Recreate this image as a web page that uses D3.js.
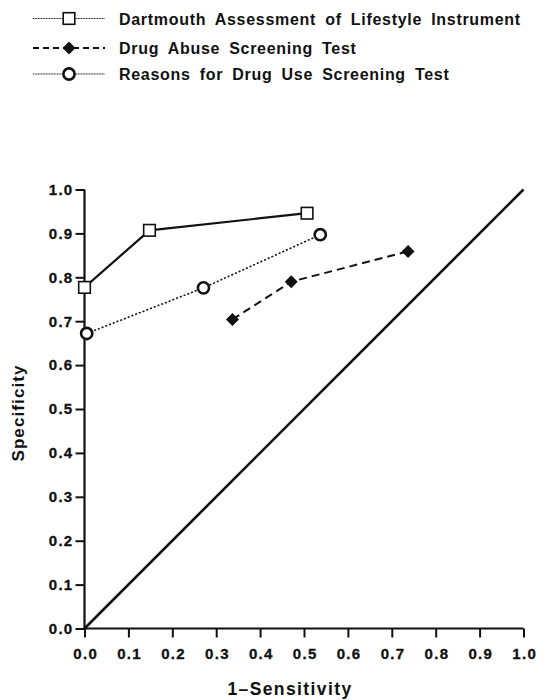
<!DOCTYPE html>
<html>
<head>
<meta charset="utf-8">
<script src="https://cdn.jsdelivr.net/npm/d3@7"></script>
<style>
  body { margin: 0; background: #fff; }
  text { font-family: "Liberation Sans", Arial, sans-serif; font-weight: bold; fill: #111; }
</style>
</head>
<body>
<div id="chart"></div>
<script>
// data
var seriesNames = ["Dartmouth Assessment of Lifestyle Instrument",
                   "Drug Abuse Screening Test",
                   "Reasons for Drug Use Screening Test"];
var daliX = [0.0, 0.148, 0.507];
var daliY = [0.777, 0.907, 0.946];
var dastX = [0.337, 0.471, 0.737];
var dastY = [0.704, 0.790, 0.859];
var rduX = [0.005, 0.271, 0.537];
var rduY = [0.672, 0.776, 0.897];
var tickValues = [0, 0.1, 0.2, 0.3, 0.4, 0.5, 0.6, 0.7, 0.8, 0.9, 1.0];

var svgWidth = 555;
var svgHeight = 700;
var margin = { left: 84.5, top: 189.5 };
var width = 439;
var height = 439;

var svg = d3.select("#chart")
  .append("svg")
  .attr("width", svgWidth)
  .attr("height", svgHeight);

var chartGroup = svg.append("g")
  .attr("transform", `translate(${margin.left}, ${margin.top})`);

var x = d3.scaleLinear().domain([0, 1]).range([0, width]);
var y = d3.scaleLinear().domain([0, 1]).range([height, 0]);

// axes
var xAxis = chartGroup.append("g")
  .attr("transform", `translate(0, ${height})`)
  .call(d3.axisBottom(x).tickValues(tickValues).tickFormat(d3.format(".1f")).tickSize(9).tickPadding(11));
var yAxis = chartGroup.append("g")
  .call(d3.axisLeft(y).tickValues(tickValues).tickFormat(d3.format(".1f")).tickSize(9).tickPadding(2));

[xAxis, yAxis].forEach(function(ax) {
  ax.attr("font-size", null).attr("font-family", null);
  ax.select(".domain").attr("stroke", "#111").attr("stroke-width", 2.2);
  ax.selectAll(".tick line").attr("stroke", "#111").attr("stroke-width", 2);
  ax.selectAll(".tick text")
    .attr("fill", "#111")
    .attr("stroke", "#111")
    .attr("stroke-width", 0.3)
    .style("font-size", "15px")
    .style("letter-spacing", "1.3px")
    .style("font-family", "'Liberation Sans', Arial, sans-serif")
    .style("font-weight", "bold");
});
xAxis.select(".domain").attr("d", `M0,0H${width}`);
yAxis.select(".domain").attr("d", `M0,${height}V0`);
xAxis.selectAll(".tick text").attr("dx", "0.7px");

// diagonal reference line
chartGroup.append("line")
  .attr("x1", x(0)).attr("y1", y(0))
  .attr("x2", x(1)).attr("y2", y(1))
  .attr("stroke", "#111")
  .attr("stroke-width", 2.6);

var line = d3.line().x(d => x(d[0])).y(d => y(d[1]));

var series = [
  { pts: d3.zip(daliX, daliY), dash: null, lw: 2.2, marker: "square" },
  { pts: d3.zip(dastX, dastY), dash: "8,5", lw: 2, marker: "diamond" },
  { pts: d3.zip(rduX, rduY), dash: "2,2", lw: 1.6, marker: "circle" }
];

function drawMarker(g, type, cx, cy) {
  if (type === "square") {
    g.append("rect")
      .attr("x", cx - 5.8).attr("y", cy - 5.8)
      .attr("width", 11.6).attr("height", 11.6)
      .attr("fill", "#fff").attr("stroke", "#111").attr("stroke-width", 1.6);
  } else if (type === "diamond") {
    g.append("path")
      .attr("d", `M${cx},${cy - 6.5}L${cx + 6.5},${cy}L${cx},${cy + 6.5}L${cx - 6.5},${cy}Z`)
      .attr("fill", "#111");
  } else {
    g.append("circle")
      .attr("cx", cx).attr("cy", cy).attr("r", 5.6)
      .attr("fill", "#fff").attr("stroke", "#111").attr("stroke-width", 2.6);
  }
}

series.forEach(function(s) {
  chartGroup.append("path")
    .attr("d", line(s.pts))
    .attr("fill", "none")
    .attr("stroke", "#111")
    .attr("stroke-width", s.lw)
    .attr("stroke-dasharray", s.dash);
  s.pts.forEach(function(p) {
    drawMarker(chartGroup, s.marker, x(p[0]), y(p[1]));
  });
});

// axis titles
svg.append("text")
  .attr("x", 290)
  .attr("y", 695)
  .attr("text-anchor", "middle")
  .style("font-size", "17.5px")
  .style("letter-spacing", "1.4px")
  .text("1\u2013Sensitivity");

svg.append("text")
  .attr("transform", `translate(24, 413) rotate(-90)`)
  .attr("text-anchor", "middle")
  .style("font-size", "17px")
  .style("letter-spacing", "1.1px")
  .text("Specificity");

// legend
var legendY = [18.5, 48, 74];
var legend = svg.append("g");
series.forEach(function(s, i) {
  var ly = legendY[i];
  legend.append("line")
    .attr("x1", 33).attr("x2", 105)
    .attr("y1", ly).attr("y2", ly)
    .attr("stroke", "#111")
    .attr("stroke-width", s.marker === "diamond" ? 2 : 1.2)
    .attr("stroke-dasharray", s.marker === "diamond" ? "6,4" : "1,0.6");
  drawMarker(legend, s.marker, 69, ly);
  legend.append("text")
    .attr("x", 119)
    .attr("y", ly + 6)
    .style("font-size", "16px")
    .style("letter-spacing", "0.7px")
    .style("word-spacing", "4px")
    .text(seriesNames[i]);
});
</script>
</body>
</html>
